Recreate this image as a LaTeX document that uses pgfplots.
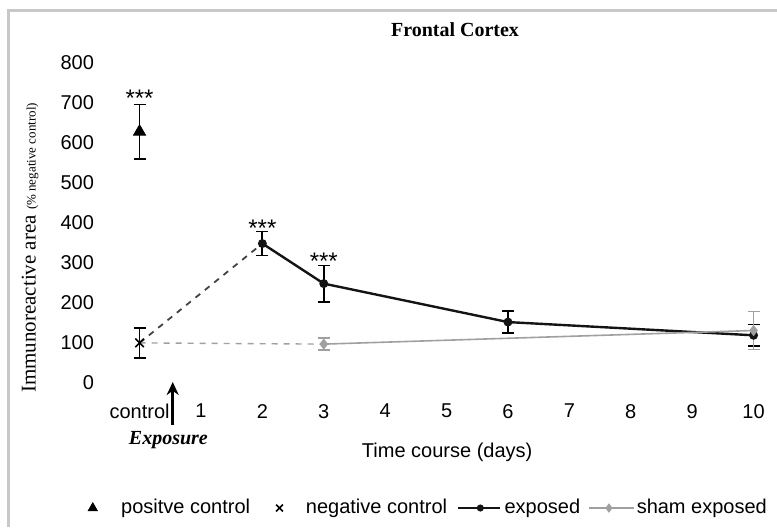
\documentclass[border=0pt]{standalone}
\usepackage{pgfplots}
\pgfplotsset{compat=1.18}
\usetikzlibrary{arrows.meta}
\usepackage{fontspec}
\setmainfont{Liberation Sans}
\newfontfamily\serif{Liberation Serif}
\definecolor{shamgray}{RGB}{160,160,160}
\definecolor{expblack}{RGB}{20,20,20}
\definecolor{framegray}{RGB}{200,200,200}
\pgfplotsset{
  legA/.style={legend image code/.code={\path (-6pt,0pt) (14pt,0pt); \draw[##1, mark size=2.6pt] plot coordinates {(0pt,0pt)};}},
  legB/.style={legend image code/.code={\path (-14.5pt,0pt) (13pt,0pt); \draw[##1, mark size=2.4pt] plot coordinates {(0pt,0pt)};}},
  legC/.style={legend image code/.code={\path (-16pt,0pt) (11.5pt,0pt); \draw[##1, line width=0.9pt, mark size=1.3pt, mark repeat=2, mark phase=2] plot coordinates {(-11pt,0pt) (0pt,0pt) (10pt,0pt)};}},
  legD/.style={legend image code/.code={\path (-14pt,0pt) (13.5pt,0pt); \draw[##1, line width=0.7pt, mark size=1.8pt, mark repeat=2, mark phase=2] plot coordinates {(-10pt,0pt) (0pt,0pt) (12.5pt,0pt)};}},
}
\begin{document}
\begin{tikzpicture}
\path[use as bounding box] (0,0) rectangle (388.5pt,263.5pt);
\draw[color=framegray, line width=1.5pt] (4pt,0) -- (4pt,258.5pt) -- (388.5pt,258.5pt);
\begin{axis}[
  at={(57.5pt,66pt)}, anchor=south west,
  scale only axis, width=328.5pt, height=170.3pt,
  xmin=-0.4, xmax=10.3, ymin=-30, ymax=820,
  clip=false,
  axis line style={draw=none}, tick style={draw=none},
  xtick={0,1,...,10},
  xticklabels={control,1,2,3,4,5,6,7,8,9,10},
  ytick={0,100,...,800},
  tick label style={font=\fontsize{10}{12}\selectfont},
  /pgf/number format/assume math mode=true,
  y tick label style={xshift=-7pt},
  x tick label style={yshift=-1pt},
  legend columns=4,
  legend style={draw=none, fill=none, inner sep=0pt, at={(axis description cs:-0.0533,-0.3318)}, anchor=west,
    font=\fontsize{10}{12}\selectfont, nodes={inner sep=0pt}},
  legend cell align=left,
]
% dashed connections
\addplot[forget plot, expblack!80, dashed, line width=0.9pt] coordinates {(0,100) (2,348)};
\addplot[forget plot, shamgray, dashed, line width=0.7pt] coordinates {(0,100) (3,97)};
% positive control
\addplot[only marks, mark=triangle*, mark size=3.5pt, color=black, legA,
  error bars/.cd, y dir=both, y explicit,
  error bar style={line width=0.9pt, black},
  error mark options={rotate=90, mark size=3pt, line width=0.9pt, black}]
  coordinates {(0,627) +- (0,68)};
\addlegendentry{positve control}
% negative control
\addplot[only marks, mark=x, mark size=3pt, color=black, mark options={line width=0.8pt}, legB,
  error bars/.cd, y dir=both, y explicit,
  error bar style={line width=0.9pt, black},
  error mark options={rotate=90, mark size=3pt, line width=0.9pt, black}]
  coordinates {(0,100) +- (0,38)};
\addlegendentry{negative control}
% exposed
\addplot[expblack, line width=1.2pt, mark=*, mark size=1.6pt, legC,
  error bars/.cd, y dir=both, y explicit,
  error bar style={line width=0.9pt, black},
  error mark options={rotate=90, mark size=3pt, line width=0.9pt, black}]
  coordinates {(2,348) +- (0,30) (3,248) +- (0,45) (6,152) +- (0,27) (10,119) +- (0,27)};
\addlegendentry{exposed}
% sham
\addplot[shamgray, line width=0.8pt, mark=diamond*, mark size=2.2pt, legD,
  error bars/.cd, y dir=both, y explicit,
  error bar style={line width=0.7pt, shamgray},
  error mark options={rotate=90, mark size=3pt, line width=0.7pt, shamgray}]
  coordinates {(3,97) +- (0,15) (10,131) +- (0,48)};
\addlegendentry{sham exposed}
% significance
\node[anchor=base, font=\fontsize{12}{14}\selectfont] at (axis cs:0,690) {***};
\node[anchor=base, font=\fontsize{12}{14}\selectfont] at (axis cs:2,366) {***};
\node[anchor=base, font=\fontsize{12}{14}\selectfont] at (axis cs:3,284) {***};
% exposure arrow and labels
\draw[-{Stealth[length=6.5pt,width=6pt]}, line width=1.4pt] (axis cs:0.54,-105) -- (axis cs:0.54,2.5);
\node[font=\serif\bfseries\itshape\fontsize{10}{12}\selectfont] at (axis cs:0.47,-142) {Exposure};
\node[font=\fontsize{10}{12}\selectfont] at (axis cs:5.01,-172) {Time course (days)};
\end{axis}
\node[rotate=90, anchor=center] at (15pt,139.5pt) {\serif\fontsize{10.5}{12}\selectfont Immunoreactive area {\fontsize{6.5}{8}\selectfont (\% negative control)}};
\node[anchor=center] at (227.5pt,248.5pt) {\serif\bfseries\fontsize{10}{12}\selectfont Frontal Cortex};
\end{tikzpicture}
\end{document}
